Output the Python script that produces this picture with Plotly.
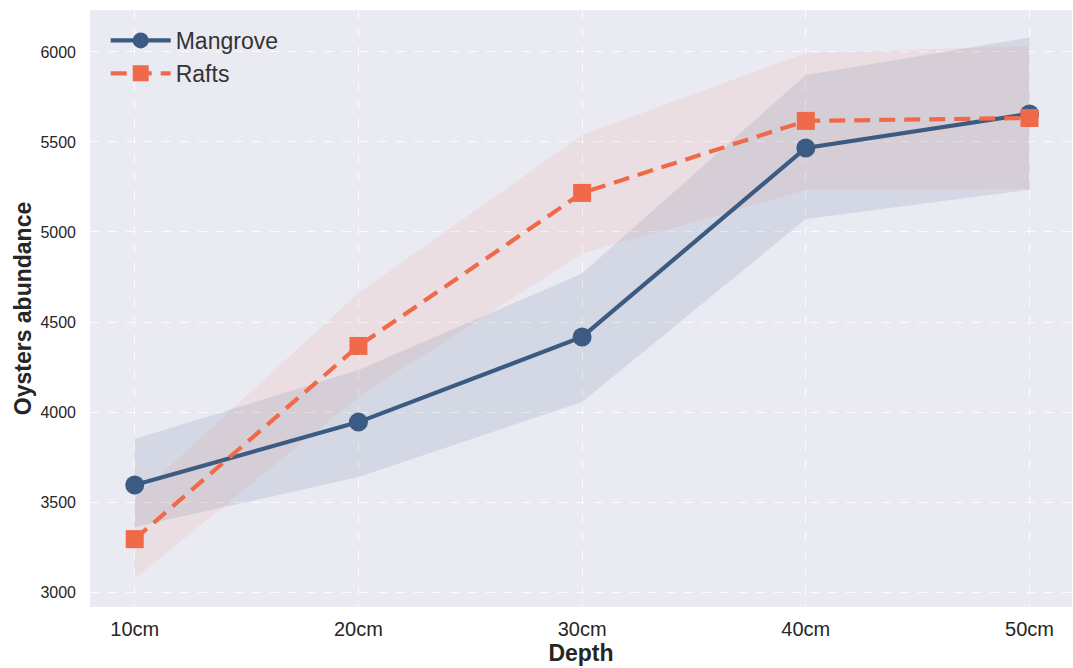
import plotly.graph_objects as go

depths = ["10cm", "20cm", "30cm", "40cm", "50cm"]
mangrove_mean = [3595, 3944, 4417, 5467, 5656]
mangrove_upper = [3850, 4233, 4770, 5872, 6080]
mangrove_lower = [3361, 3639, 4056, 5072, 5235]
rafts_mean = [3294, 4367, 5217, 5617, 5633]
rafts_upper = [3520, 4661, 5539, 5994, 6033]
rafts_lower = [3075, 4083, 4880, 5233, 5239]

blue = "#3B5B82"
orange = "#F06A4A"

fig = go.Figure()

fig.add_trace(go.Scatter(
    x=depths + depths[::-1], y=mangrove_upper + mangrove_lower[::-1],
    fill="toself", fillcolor="rgba(59,91,130,0.12)", line=dict(width=0),
    mode="lines", hoverinfo="skip", showlegend=False))
fig.add_trace(go.Scatter(
    x=depths + depths[::-1], y=rafts_upper + rafts_lower[::-1],
    fill="toself", fillcolor="rgba(240,106,74,0.09)", line=dict(width=0),
    mode="lines", hoverinfo="skip", showlegend=False))

fig.add_trace(go.Scatter(
    x=depths, y=mangrove_mean, name="Mangrove", mode="lines+markers",
    line=dict(color=blue, width=4.2),
    marker=dict(symbol="circle", size=19, color=blue)))
fig.add_trace(go.Scatter(
    x=depths, y=rafts_mean, name="Rafts", mode="lines+markers",
    line=dict(color=orange, width=4.2, dash="16px,9px"),
    marker=dict(symbol="square", size=18, color=orange)))

fig.update_layout(
    width=1073, height=668,
    margin=dict(l=90, r=1, t=10, b=61),
    paper_bgcolor="white", plot_bgcolor="#EAEAF2",
    font=dict(family="Liberation Sans, Arial, sans-serif", color="#262626"),
    showlegend=True,
    legend=dict(x=0.016, y=0.985, xanchor="left", yanchor="top",
                bgcolor="rgba(0,0,0,0)", font=dict(size=23, color="#333333"),
                itemwidth=60, tracegroupgap=0),
)
fig.update_xaxes(
    type="category", categoryorder="array", categoryarray=depths,
    range=[-0.2, 4.19],
    showgrid=True, gridcolor="rgba(255,255,255,0.8)", griddash="dash", gridwidth=1,
    zeroline=False, showline=False, ticks="",
    tickfont=dict(size=20, color="#262626"), ticklabelstandoff=8,
    title=dict(text="<b>Depth</b>", font=dict(size=23, color="#262626"), standoff=2),
)
fig.update_yaxes(
    range=[2917, 6233], tickvals=[3000, 3500, 4000, 4500, 5000, 5500, 6000],
    showgrid=True, gridcolor="rgba(255,255,255,0.8)", griddash="dash", gridwidth=1,
    zeroline=False, showline=False, ticks="",
    tickfont=dict(size=16, color="#262626"), ticklabelstandoff=13,
    title=dict(text="<b>Oysters abundance</b>", font=dict(size=23, color="#262626"), standoff=2),
)

fig.write_html("out.html")
